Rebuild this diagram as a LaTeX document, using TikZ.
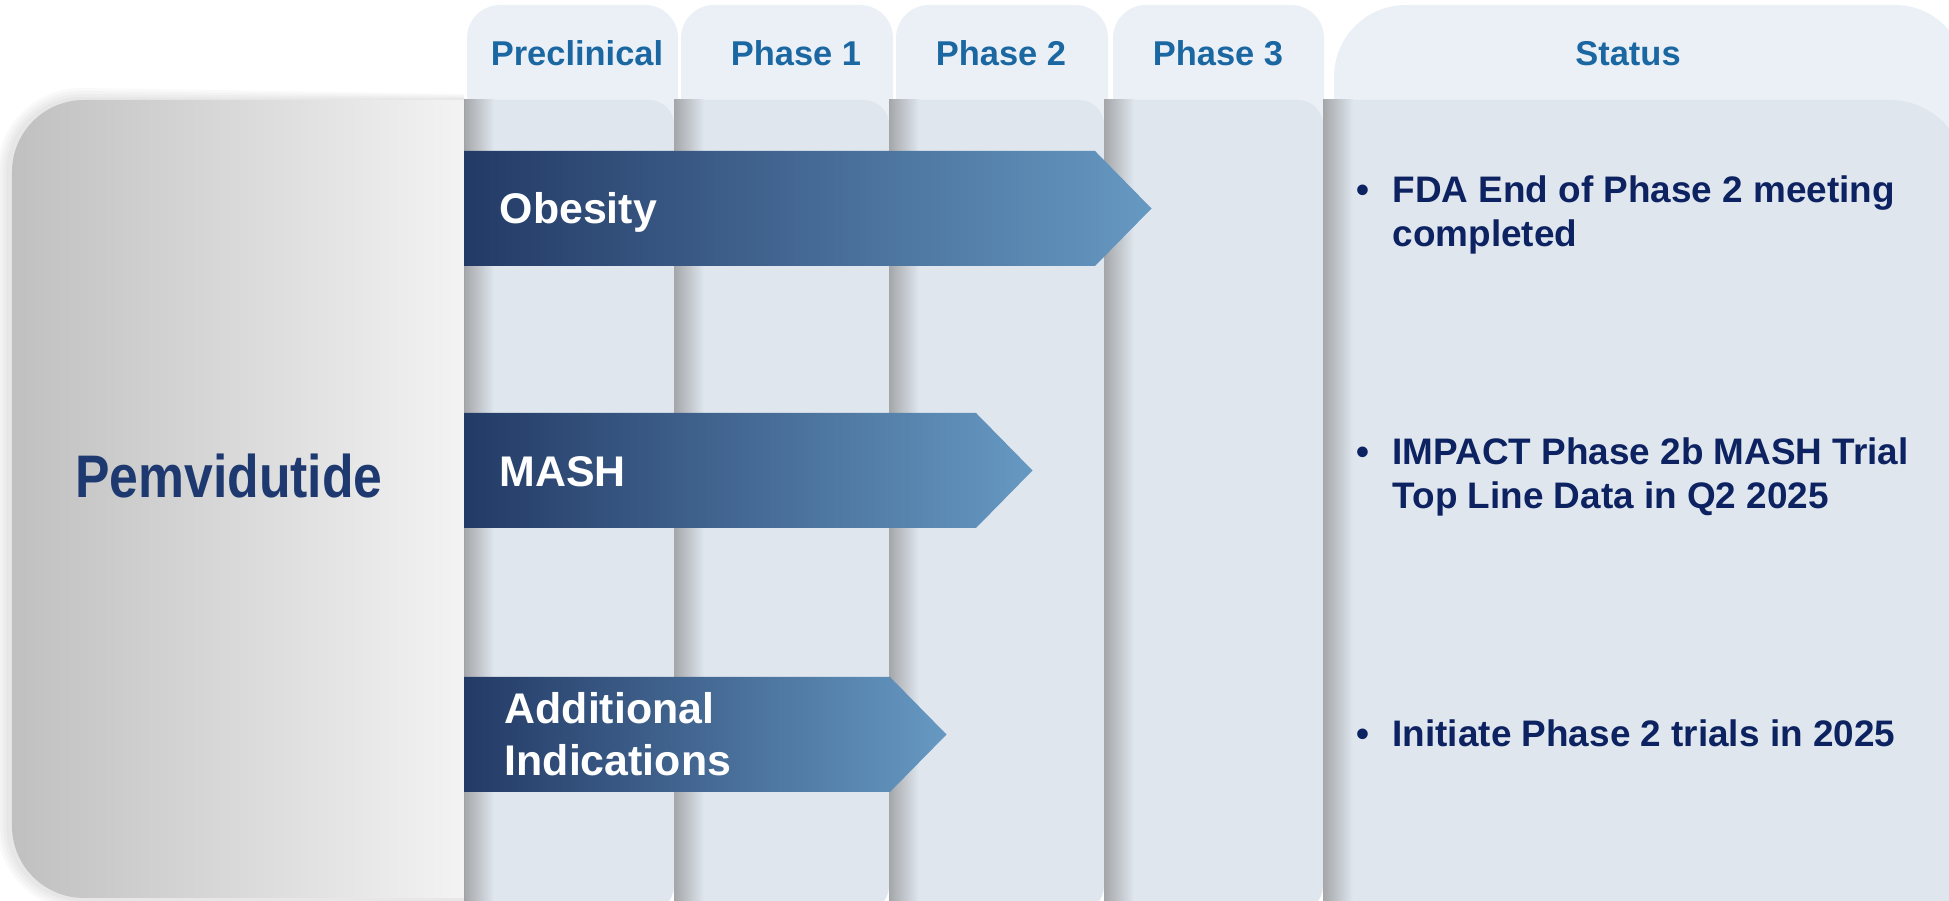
\documentclass[tikz,border=0pt]{standalone}
\usepackage{fontspec}
\setmainfont{Liberation Sans}
\newfontfamily\narrowsans[FakeStretch=0.86]{Liberation Sans}
\usetikzlibrary{calc}

\definecolor{tabfill}{HTML}{EBF0F7}
\definecolor{bodyfill}{HTML}{DFE6EE}
\definecolor{sepgray}{HTML}{A4A6A9}
\definecolor{panelL}{HTML}{C0C0C0}
\definecolor{panelR}{HTML}{F3F3F3}
\definecolor{barL}{HTML}{233A66}
\definecolor{barR}{HTML}{6699C2}
\definecolor{headblue}{HTML}{1B67A2}
\definecolor{drugblue}{HTML}{1E3970}
\definecolor{notenavy}{HTML}{0D2260}

\begin{document}
\begin{tikzpicture}[
    headlbl/.style={font=\bfseries\fontsize{9.8}{11}\selectfont, text=headblue,
      inner sep=0pt, anchor=base},
    barlbl/.style={font=\bfseries\fontsize{12.2}{14.8}\selectfont, text=white,
      inner sep=0pt, anchor=base west, align=left},
    notelbl/.style={font=\bfseries\fontsize{10.5}{12.5}\selectfont, text=notenavy,
      inner sep=0pt, anchor=base west},
    phasebar/.style={left color=barL, right color=barR},
    colsep/.style={left color=sepgray, right color=bodyfill}
  ]
  \useasboundingbox (0,0) rectangle (19.49,9.01);
  \fill[white] (0,0) rectangle (19.49,9.01);
  \begin{scope}
    \clip (0,0) rectangle (19.49,9.01);
    \foreach \xa/\xb in {4.67/6.78, 6.81/8.93, 8.96/11.08, 11.13/13.24}
      \fill[tabfill, rounded corners=0.33cm] (\xa,7.5) rectangle (\xb,8.96);
    \fill[tabfill] (13.34,7.5) -- (13.34,8.24) arc (180:90:0.72)
      -- (18.95,8.96) arc (90:0:0.7) -- (19.65,7.5) -- cycle;
    \foreach \xa/\xb in {4.64/6.74, 6.74/8.89, 8.89/11.04, 11.04/13.23}
      \fill[bodyfill, rounded corners=0.25cm] (\xa,-0.1) rectangle (\xb,8.01);
    \fill[bodyfill] (13.23,8.01) -- (18.9,8.01) arc (90:0:0.75)
      -- (19.65,-0.1) -- (13.23,-0.1) -- cycle;
    \foreach \xs in {4.64, 6.74, 8.89, 11.04, 13.23}
      \shade[colsep] (\xs,-0.1) rectangle (\xs+0.3,8.01);
    \foreach \d in {0.03,0.06,0.09,0.12}
      \fill[black, opacity=0.025]
        (4.64,0.03-\d) -- (0.81,0.03-\d) arc (270:180:0.72+\d)
        -- (0.09-\d,7.29) arc (180:90:0.72+\d) -- (4.64,8.01+\d/2) -- cycle;
    \shade[left color=panelL, right color=panelR]
      (4.64,0.03) -- (0.84,0.03) arc (270:180:0.72)
      -- (0.12,7.29) arc (180:90:0.72) -- (4.64,8.01) -- cycle;
  \end{scope}

  \node[font=\narrowsans\bfseries\fontsize{17.1}{20}\selectfont, text=drugblue,
    anchor=base] (drug) at (2.29,4.03) {Pemvidutide};

  \foreach \hx/\hname/\htxt in {5.77/preclin/Preclinical, 7.96/phaseone/Phase 1,
      10.01/phasetwo/Phase 2, 12.18/phasethree/Phase 3, 16.28/status/Status}
    \node[headlbl] (\hname) at (\hx,8.35) {\htxt};

  \foreach \yt/\xe in {7.50/10.95, 4.88/9.76, 2.24/8.90}
    \shade[phasebar] (4.64,\yt) -- (\xe,\yt) -- (\xe+0.565,\yt-0.575)
      -- (\xe,\yt-1.15) -- (4.64,\yt-1.15) -- cycle;
  \node[barlbl] (obesity) at (4.99,6.77) {Obesity};
  \node[barlbl] (mash) at (4.99,4.14) {MASH};
  \node[barlbl] (addind) at (5.04,1.25) {Additional\\Indications};

  \node[notelbl] (noteobesity) at (13.56,6.98)
    {\begin{tabular}[t]{@{}l@{\hspace{0.23cm}}l@{}}
      \textbullet & FDA End of Phase 2 meeting\\ & completed\end{tabular}};
  \node[notelbl] (notemash) at (13.56,4.36)
    {\begin{tabular}[t]{@{}l@{\hspace{0.23cm}}l@{}}
      \textbullet & IMPACT Phase 2b MASH Trial\\ & Top Line Data in Q2 2025\end{tabular}};
  \node[notelbl] (noteaddind) at (13.56,1.54)
    {\begin{tabular}[t]{@{}l@{\hspace{0.23cm}}l@{}}
      \textbullet & Initiate Phase 2 trials in 2025\end{tabular}};
\end{tikzpicture}
\end{document}
